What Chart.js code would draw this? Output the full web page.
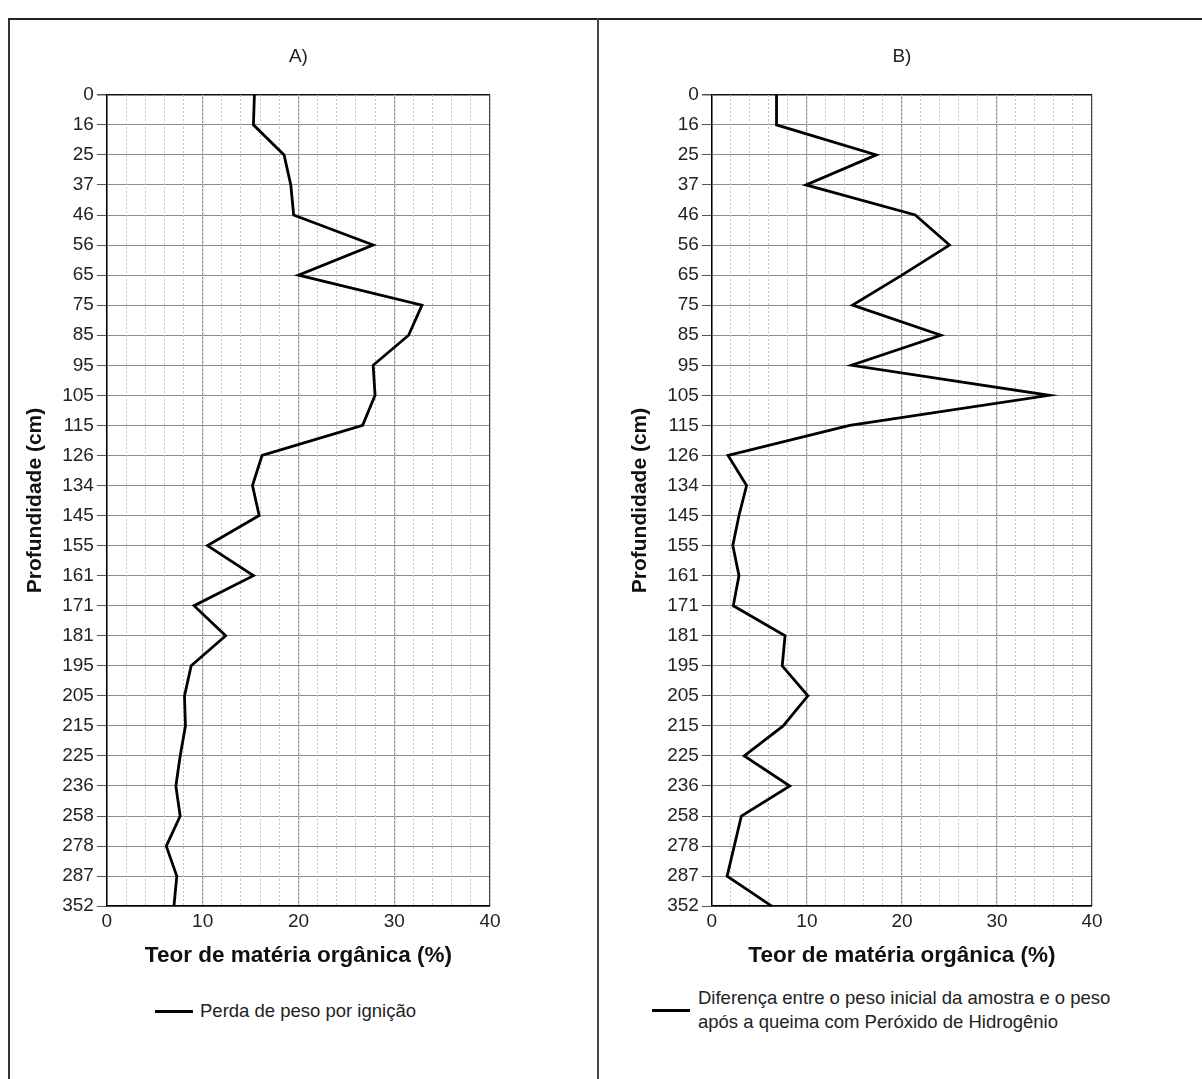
<!DOCTYPE html>
<html lang="pt-BR">
<head>
<meta charset="utf-8">
<script src="https://cdn.jsdelivr.net/npm/chart.js@4.4.1/dist/chart.umd.min.js"></script>
<style>
    body { margin: 0; background: #fff; font-family: 'Liberation Sans', Arial, sans-serif; }
    .moldura { position: absolute; left: 8px; top: 18px; width: 1200px; height: 1070px; border-top: 2px solid #222; border-left: 2px solid #333; }
    .divisoria { position: absolute; left: 597px; top: 18px; width: 2px; height: 1070px; background: #444; }
    .caixa { position: absolute; top: 20px; height: 960px; }
    #caixaA { left: 10px; width: 588px; }
    #caixaB { left: 615px; width: 585px; }
    .legenda { position: absolute; font-size: 18.5px; color: #222; line-height: 24px; white-space: nowrap; }
    .legenda .traco { position: absolute; height: 3px; background: #000; }
</style>
</head>
<body>
<div class="moldura"></div>
<div class="divisoria"></div>
<div class="caixa" id="caixaA"><canvas id="graficoA"></canvas></div>
<div class="caixa" id="caixaB"><canvas id="graficoB"></canvas></div>

<div class="legenda" style="left:200px; top:999px;">
    <span class="traco" style="left:-45px; top:11px; width:38px;"></span>
    Perda de peso por ignição
</div>
<div class="legenda" style="left:698px; top:986px;">
    <span class="traco" style="left:-46px; top:23px; width:38px;"></span>
    Diferença entre o peso inicial da amostra e o peso<br>após a queima com Peróxido de Hidrogênio
</div>

<script>
const profundidades = ['0', '16', '25', '37', '46', '56', '65', '75', '85', '95', '105', '115', '126', '134',
    '145', '155', '161', '171', '181', '195', '205', '215', '225', '236', '258', '278', '287', '352'];

const perdaIgnicao = [15.4, 15.3, 18.5, 19.2, 19.5, 27.8, 20.0, 32.9, 31.5, 27.8, 28.0, 26.7, 16.2, 15.2,
    15.9, 10.5, 15.3, 9.1, 12.4, 8.8, 8.1, 8.2, 7.65, 7.2, 7.65, 6.2, 7.3, 7.0];

const difPeroxido = [6.8, 6.8, 17.3, 9.9, 21.4, 25.0, 20.0, 14.8, 24.1, 14.7, 35.5, 14.5, 1.7, 3.65,
    2.85, 2.2, 2.85, 2.25, 7.7, 7.4, 10.1, 7.5, 3.4, 8.2, 3.1, 2.35, 1.6, 6.3];

const limitesX = [0, 40];
const passoMaior = 10;
const passoMenor = 2;

const fonte = "'Liberation Sans', Arial, sans-serif";
const corTexto = '#222222';
const corGrade = '#8c8c8c';

const estiloTicks = {
    color: corTexto,
    font: { family: fonte, size: 19 }
};

function opcoesGrafico(titulo) {
    return {
        responsive: true,
        maintainAspectRatio: false,
        animation: false,
        indexAxis: 'y',
        layout: {
            padding: { top: 0, bottom: 7, left: 13, right: 108 }
        },
        plugins: {
            legend: { display: false },
            tooltip: { enabled: false }
        },
        scales: {
            y: {
                type: 'category',
                offset: false,
                grid: {
                    // a primeira linha é a borda de cima do gráfico
                    color: (ctx) => ctx.index === 0 ? '#111' : corGrade,
                    lineWidth: (ctx) => ctx.index === 0 ? 1.5 : 1,
                    tickLength: 10,
                    tickColor: '#555'
                },
                border: { color: '#000', width: 1.5 },
                ticks: { ...estiloTicks, padding: 3, autoSkip: false },
                title: {
                    display: true,
                    text: 'Profundidade (cm)',
                    color: '#111',
                    font: { family: fonte, size: 21, weight: 'bold' },
                    padding: { top: 0, bottom: 11 }
                }
            },
            x: {
                type: 'linear',
                min: limitesX[0],
                max: limitesX[1],
                grid: {
                    color: (ctx) => ctx.tick && ctx.tick.value === limitesX[1] ? '#444' : corGrade,
                    lineWidth: 1.2,
                    drawTicks: false
                },
                border: { color: '#000', width: 1.5 },
                ticks: { ...estiloTicks, stepSize: passoMaior, padding: 4 },
                title: {
                    display: true,
                    text: 'Teor de matéria orgânica (%)',
                    color: '#111',
                    font: { family: fonte, size: 22.5, weight: 'bold' },
                    padding: { top: 5, bottom: 4 }
                }
            },
            // eixo de cima: só a grade fina (a cada 2) e o título do painel
            xMenor: {
                type: 'linear',
                position: 'top',
                min: limitesX[0],
                max: limitesX[1],
                grid: {
                    color: '#c4c4c4',
                    lineWidth: 1,
                    drawTicks: false
                },
                border: { display: false, dash: [2, 2] },
                ticks: { display: false, stepSize: passoMenor },
                title: {
                    display: true,
                    text: titulo,
                    color: corTexto,
                    font: { family: fonte, size: 19 },
                    padding: { top: 25, bottom: 27 }
                }
            }
        }
    };
}

function serie(rotulo, valores) {
    return {
        label: rotulo,
        data: valores,
        xAxisID: 'x',
        borderColor: '#000000',
        borderWidth: 2.8,
        pointRadius: 0,
        tension: 0,
        fill: false
    };
}

new Chart(document.getElementById('graficoA'), {
    type: 'line',
    data: {
        labels: profundidades,
        datasets: [serie('Perda de peso por ignição', perdaIgnicao)]
    },
    options: opcoesGrafico('A)')
});

new Chart(document.getElementById('graficoB'), {
    type: 'line',
    data: {
        labels: profundidades,
        datasets: [serie('Diferença entre o peso inicial da amostra e o peso após a queima com Peróxido de Hidrogênio', difPeroxido)]
    },
    options: opcoesGrafico('B)')
});
</script>
</body>
</html>
